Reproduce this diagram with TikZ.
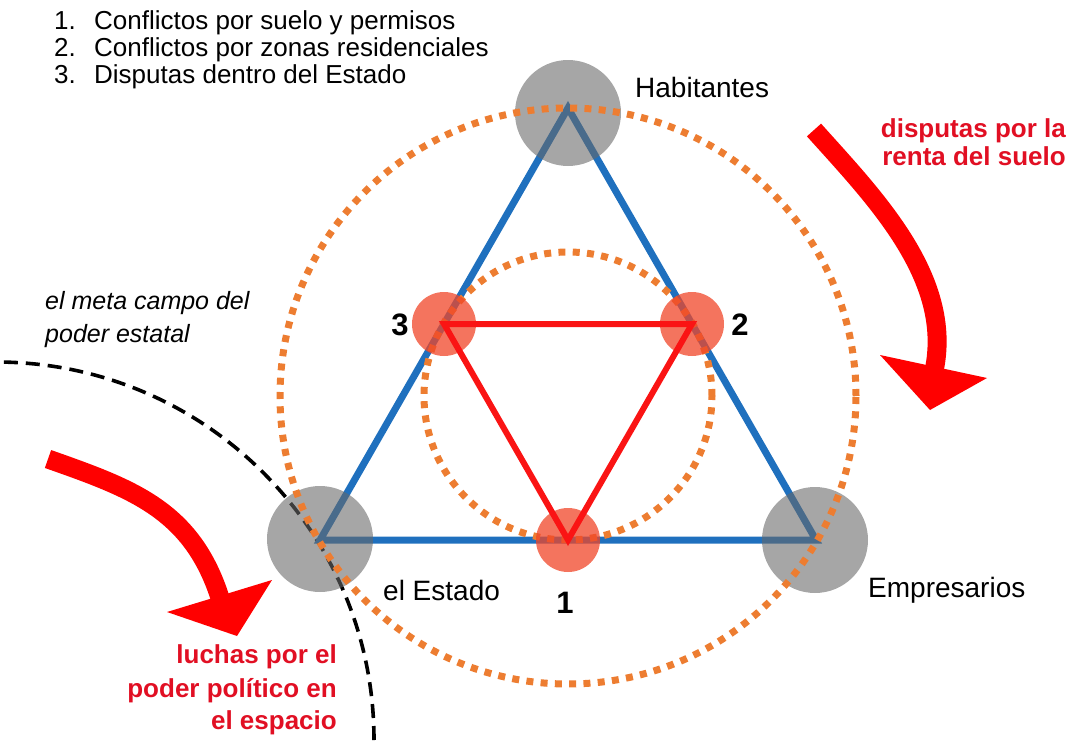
\documentclass[tikz,border=0pt]{standalone}
\usepackage{fontspec}
\setmainfont{Liberation Sans}
\definecolor{tblue}{RGB}{31,112,190}
\definecolor{tred}{RGB}{250,20,20}
\definecolor{torange}{RGB}{237,125,49}
\definecolor{tgray}{RGB}{104,104,104}
\definecolor{tsalmon}{RGB}{240,70,40}
\definecolor{tredtext}{RGB}{225,15,35}
\definecolor{arrowred}{RGB}{255,0,0}
\tikzset{
  blueline/.style={draw=tblue, line width=7pt, line join=miter},
  redline/.style={draw=tred, line width=6pt, line join=miter},
  orangedot/.style={draw=torange, line width=7pt, dash pattern=on 7pt off 7.3pt},
  blackdash/.style={draw=black, line width=3.6pt, dash pattern=on 14pt off 8pt},
  graydisc/.style={circle, fill=tgray, fill opacity=0.59, minimum size=106pt, inner sep=0pt},
  reddisc/.style={circle, fill=tsalmon, fill opacity=0.75, minimum size=64pt, inner sep=0pt},
  lbl/.style={font=\fontsize{28}{30}\selectfont, inner sep=0pt, anchor=base west},
  listtxt/.style={font=\fontsize{26}{28}\selectfont, inner sep=0pt, anchor=base west},
  redtxt/.style={font=\bfseries\fontsize{26}{28}\selectfont, text=tredtext, inner sep=0pt, anchor=base east},
  ittxt/.style={font=\itshape\fontsize{25}{27}\selectfont, inner sep=0pt, anchor=base west},
  numtxt/.style={font=\bfseries\fontsize{31}{33}\selectfont, inner sep=0pt, anchor=base},
  shaft/.style={draw=arrowred, line width=19pt},
  head/.style={fill=arrowred},
}
\begin{document}
\begin{tikzpicture}[x=1pt,y=-1pt]
\useasboundingbox (0,0) rectangle (1072,744);
% key points
\coordinate (H) at (568,108);
\coordinate (S) at (320,540);
\coordinate (E) at (816,540);
\coordinate (M3) at (444,324);
\coordinate (M2) at (692,324);
\coordinate (M1) at (568,540);
\coordinate (C) at (568,396);
\coordinate (D) at (-4,740);
% dashed arc of the meta field
\begin{scope}
  \clip (0,0) rectangle (1072,744);
  \draw[blackdash] (D) circle (378pt);
\end{scope}
% blue triangle
\draw[blueline] (H) -- (S) -- (E) -- cycle;
% red arrows
\coordinate (RA0) at (814,130);
\coordinate (RA1) at (874,197);
\coordinate (RA2) at (954,278);
\coordinate (RA3) at (934,371);
\draw[shaft] (RA0) .. controls (RA1) and (RA2) .. (RA3);
\coordinate (RH1) at (880,355);
\coordinate (RH2) at (930,410);
\coordinate (RH3) at (987,378);
\fill[head] (RH1) -- (RH2) -- (RH3) -- cycle;
\coordinate (LA0) at (48,459);
\coordinate (LA1) at (133,489);
\coordinate (LA2) at (193,510);
\coordinate (LA3) at (221,601);
\draw[shaft] (LA0) .. controls (LA1) and (LA2) .. (LA3);
\coordinate (LH1) at (167,612);
\coordinate (LH2) at (237,636);
\coordinate (LH3) at (272,580);
\fill[head] (LH1) -- (LH2) -- (LH3) -- cycle;
% gray discs
\node[graydisc] (gH) at (568,113) {};
\node[graydisc] (gS) at (320,539) {};
\node[graydisc] (gE) at (815,540) {};
% orange dotted circles
\draw[orangedot] (C) circle (288pt);
\draw[orangedot] (C) circle (144pt);
% salmon discs
\node[reddisc] (r3) at (M3) {};
\node[reddisc] (r2) at (M2) {};
\node[reddisc] (r1) at (M1) {};
% red inner triangle
\draw[redline] (M3) -- (M2) -- (M1) -- cycle;
% texts
\node[listtxt] (l1) at (54,29.5) {\makebox[40pt][l]{1.}Conflictos por suelo y permisos};
\node[listtxt] (l2) at (54,56.5) {\makebox[40pt][l]{2.}Conflictos por zonas residenciales};
\node[listtxt] (l3) at (54,83.5) {\makebox[40pt][l]{3.}Disputas dentro del Estado};
\node[lbl] (tH) at (635,97) {Habitantes};
\node[lbl] (tS) at (383,600) {el Estado};
\node[lbl] (tE) at (868,597) {Empresarios};
\node[redtxt] (d1) at (1066,137) {disputas por la};
\node[redtxt] (d2) at (1066,165) {renta del suelo};
\node[ittxt] (m1) at (45,309) {el meta campo del};
\node[ittxt] (m2) at (45,342) {poder estatal};
\node[redtxt] (p1) at (337,663) {luchas por el};
\node[redtxt] (p2) at (337,697) {poder político en};
\node[redtxt] (p3) at (337,729) {el espacio};
\node[numtxt] (n3) at (400,335) {3};
\node[numtxt] (n2) at (740,335) {2};
\node[numtxt] (n1) at (565,613) {1};
\end{tikzpicture}
\end{document}
